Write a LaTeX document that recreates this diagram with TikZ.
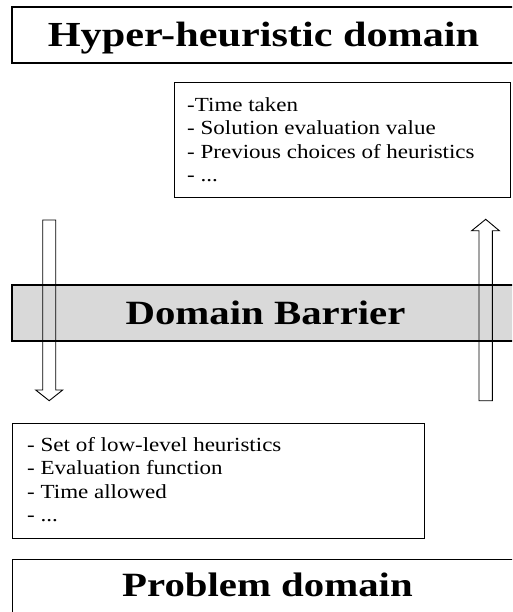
\documentclass[tikz,border=0pt]{standalone}
\usepackage{fontspec}
\setmainfont{Liberation Serif}[FakeStretch=1.2]
\newfontfamily\itemfont{Liberation Serif}[FakeStretch=1.15]
\begin{document}
\begin{tikzpicture}[x=1pt,y=-1pt,
  box/.style={draw=black, line width=1.2pt, inner sep=0pt},
  title/.style={font=\bfseries\fontsize{#1}{#1}\selectfont, text height=0.655*#1 pt, text depth=0pt, inner sep=0pt},
  item/.style={font=\itemfont\fontsize{20}{23}\selectfont, anchor=base west, inner sep=0pt},
  blockarrow/.style={draw=black, line width=0.9pt, line join=miter}]
\useasboundingbox (0,0) rectangle (512,612);
\clip (0,0) rectangle (512,612);
% top domain
\node[box, minimum width=503pt, minimum height=56pt] (hyperbox) at (263.5,35) {};
\node[title=35.2] (hyper) at (263.5,35) {Hyper-heuristic domain};
% upper info box
\node[box, anchor=north west, minimum width=336pt, minimum height=115pt] (upbox) at (174,82) {};
\node[item] (u1) at (187,111.5) {-Time taken};
\node[item] (u2) at (187,135) {- Solution evaluation value};
\node[item] (u3) at (187,158.5) {- Previous choices of heuristics};
\node[item] (u4) at (187,182) {- ...};
% barrier
\node[box, fill=black!15, minimum width=507pt, minimum height=56pt] (barrier) at (265.5,313) {};
\node[title=34] (barriertext) at (265.5,313) {Domain Barrier};
% arrows
\draw[blockarrow] (42.7,220) -- (55.7,220) -- (55.7,390) -- (62.7,390) -- (49.2,400.7) -- (35.7,390) -- (42.7,390) -- cycle;
\draw[blockarrow] (479,400.7) -- (492.3,400.7) -- (492.3,230.7) -- (499.3,230.7) -- (485.7,219.3) -- (471.7,230.7) -- (479,230.7) -- cycle;
% lower info box
\node[box, anchor=north west, minimum width=412pt, minimum height=115pt] (lowbox) at (12,423) {};
\node[item] (l1) at (27,451) {- Set of low-level heuristics};
\node[item] (l2) at (27,474.5) {- Evaluation function};
\node[item] (l3) at (27,498) {- Time allowed};
\node[item] (l4) at (27,521.5) {- ...};
% problem domain
\node[box, anchor=north west, minimum width=511pt, minimum height=58pt] (probbox) at (12,559) {};
\node[title=34] (prob) at (267.5,585.7) {Problem domain};
\end{tikzpicture}
\end{document}
